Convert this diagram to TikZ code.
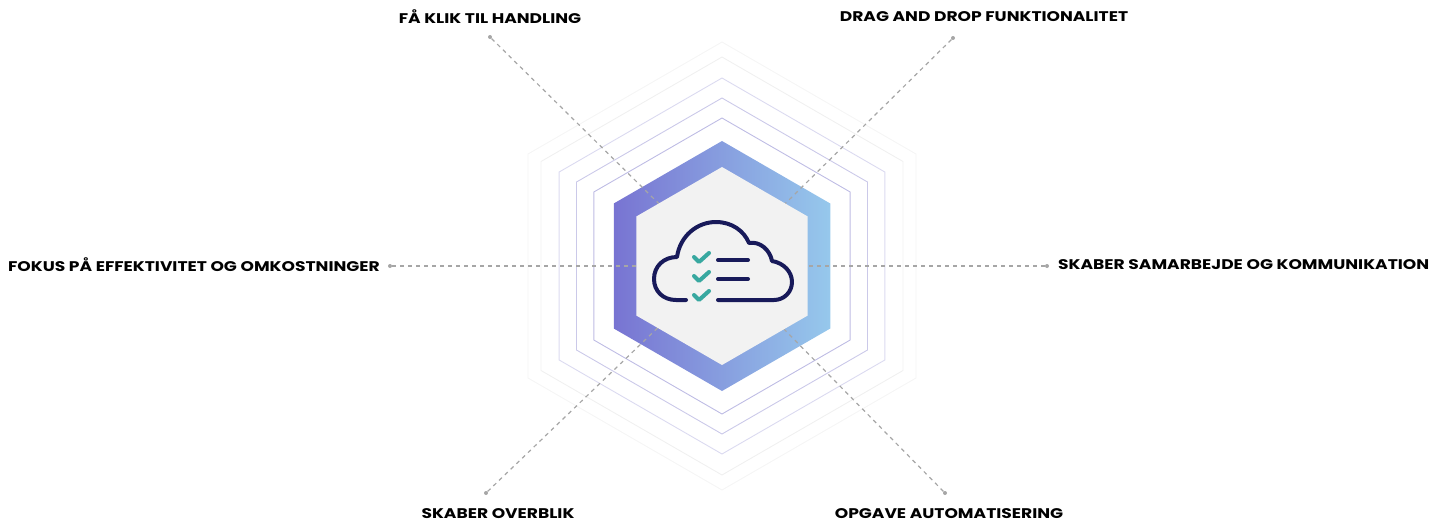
\documentclass[tikz,border=0pt]{standalone}
\usepackage{fontspec}
\setmainfont{Poppins}[FakeStretch=1.22]
\begin{document}
\begin{tikzpicture}[x=1pt,y=-1pt,
  lbl/.style={font=\bfseries\fontsize{14}{15}\selectfont, text=black, inner sep=0pt},
  dot/.style={circle, fill=gray!70, minimum size=4pt, inner sep=0pt},
  conn/.style={draw=gray!70, line width=1.2pt, dash pattern=on 4pt off 4pt},
  ring/.style={line width=0.9pt}]
\useasboundingbox (0,0) rectangle (1436,531);
\def\hex#1{(722,266)+(90:#1) -- +(30:#1) -- +(-30:#1) -- +(-90:#1) -- +(-150:#1) -- +(150:#1) -- cycle}
\definecolor{ringc}{RGB}{190,188,228}
\coordinate (c) at (722,266);
% rings
\draw[ring, draw=gray!8] \hex{224};
\draw[ring, draw=gray!12] \hex{209};
\draw[ring, draw=ringc!55] \hex{188};
\draw[ring, draw=ringc!80] \hex{168};
\draw[ring, draw=ringc] \hex{148};
% gradient band
\shade[left color={rgb,255:red,120;green,116;blue,210}, right color={rgb,255:red,150;green,200;blue,236}] \hex{125};
% dots and connectors
\node[dot] (tl) at (490,37) {};
\node[dot] (tr) at (953,38) {};
\node[dot] (l) at (390,266) {};
\node[dot] (r) at (1047,266) {};
\node[dot] (bl) at (486,493) {};
\node[dot] (br) at (945,493) {};
\foreach \n in {tl,tr,l,r,bl,br} \draw[conn] (\n) -- (c);
% inner
\fill[gray!10] \hex{99};
% cloud
\draw[line width=4pt, line cap=round, line join=round, draw={rgb,255:red,24;green,26;blue,90}]
  (686,300) -- (676,300) .. controls (663,300) and (654,291) .. (654,279)
  .. controls (654,266) and (664,257) .. (677,257)
  .. controls (680,236) and (697,222) .. (716,222)
  .. controls (732,222) and (744,231) .. (749,243)
  .. controls (760,241) and (770,250) .. (772,261)
  .. controls (784,263) and (792,272) .. (792,282)
  .. controls (792,292) and (784,300) .. (774,300) -- (718,300);
\draw[line width=4pt, line cap=round, draw={rgb,255:red,24;green,26;blue,90}]
  (718,260) -- (748,260) (718,279) -- (748,279);
\foreach \yy in {260,279,298}
  \draw[line width=4pt, line cap=round, line join=round, draw={rgb,255:red,56;green,168;blue,160}]
    (694,\yy-3) -- (699,\yy+2) -- (709,\yy-7);
% labels
\node[lbl] (t1) at (490,17) {FÅ KLIK TIL HANDLING};
\node[lbl] (t2) at (984,17) {DRAG AND DROP FUNKTIONALITET};
\node[lbl, anchor=east] (t3) at (380,265) {FOKUS PÅ EFFEKTIVITET OG OMKOSTNINGER};
\node[lbl, anchor=west] (t4) at (1058,265) {SKABER SAMARBEJDE OG KOMMUNIKATION};
\node[lbl] (t5) at (498,514) {SKABER OVERBLIK};
\node[lbl] (t6) at (949,514) {OPGAVE AUTOMATISERING};
\end{tikzpicture}
\end{document}
